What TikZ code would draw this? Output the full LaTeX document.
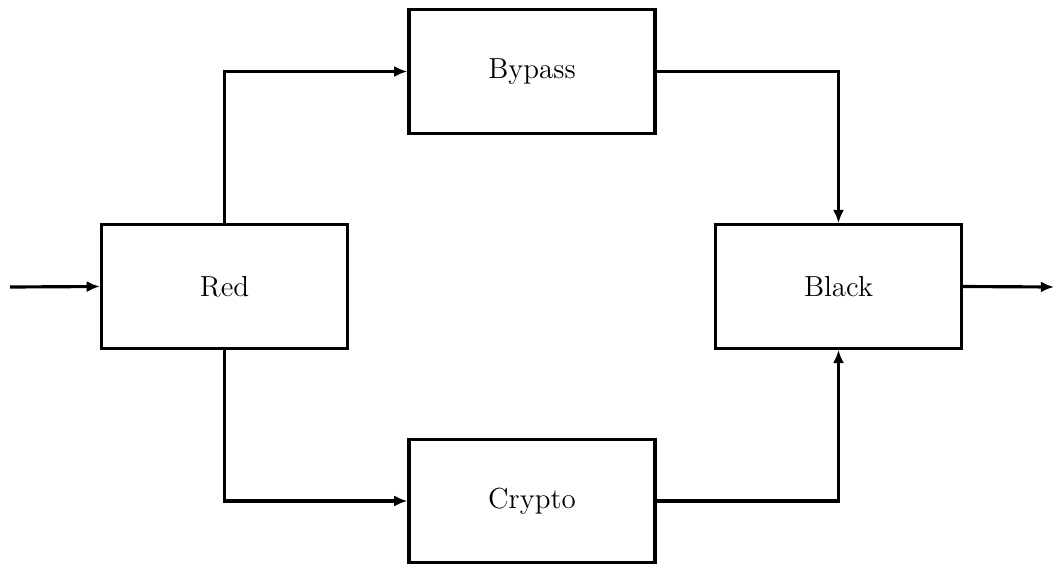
\documentclass[tikz,border=0pt]{standalone}
\usetikzlibrary{arrows.meta}
\begin{document}
\begin{tikzpicture}[x=0.3795pt,y=-0.3795pt,
  blockbox/.style={draw,line width=1.2pt,minimum width=93.4pt,minimum height=46.9pt,inner sep=0pt,font=\fontsize{11}{13}\selectfont},
  conn/.style={line width=1.2pt,-{Latex[length=5pt,width=4.2pt]}}]
\useasboundingbox (0,0) rectangle (1054,564);
\node[blockbox] (red) at (224.5,286.5) {Red};
\node[blockbox] (bypass) at (532,71.5) {Bypass};
\node[blockbox] (black) at (838.5,286.5) {Black};
\node[blockbox] (crypto) at (532,501) {Crypto};
\coordinate (in) at (10,287);
\coordinate (out) at (1054,287);
\coordinate (rt) at (224.5,71.5);
\coordinate (rb) at (224.5,501);
\coordinate (bt) at (838.5,71.5);
\coordinate (bb) at (838.5,501);
\draw[conn] (in) -- (red.west);
\draw[conn] (black.east) -- (out);
\draw[conn] (red.north) -- (rt) -- (bypass.west);
\draw[conn] (red.south) -- (rb) -- (crypto.west);
\draw[conn] (bypass.east) -- (bt) -- (black.north);
\draw[conn] (crypto.east) -- (bb) -- (black.south);
\end{tikzpicture}
\end{document}
